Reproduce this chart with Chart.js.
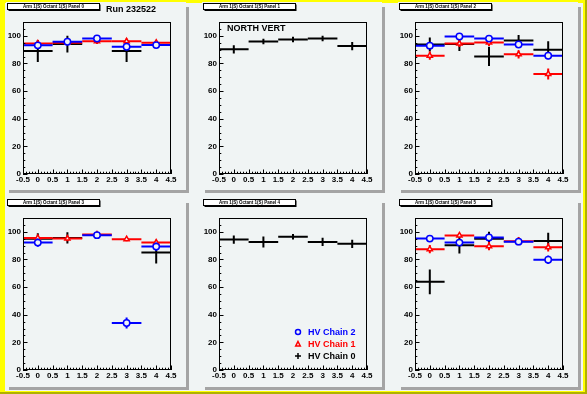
<!DOCTYPE html>
<html><head><meta charset="utf-8">
<script src="https://cdn.jsdelivr.net/npm/chart.js@4.4.0/dist/chart.umd.min.js"></script>
<style>
html,body{margin:0;padding:0;background:#fff;}
#root{position:absolute;left:0;top:0;width:587px;height:394px;background:#b0b000;overflow:hidden}
.abs{position:absolute}
canvas{position:absolute;background:#f0f4f4}
</style></head><body>
<div id="root">
 <div class="abs" style="left:0;top:0;width:585px;height:392px;background:#ffff00"></div>
 <div class="abs" style="left:5px;top:3px;width:578px;height:388px;background:#f0f4f4"></div>
</div>
<script>
// ---------- data ----------
const bins = [0, 1, 2, 3, 4];
const binHalfWidth = 0.5;
const xTickValues = [-0.5, 0, 0.5, 1, 1.5, 2, 2.5, 3, 3.5, 4, 4.5];
const yTickValues = [0, 20, 40, 60, 80, 100];
const seriesNames = ['HV Chain 2', 'HV Chain 1', 'HV Chain 0'];
const panelTitles = [
  'Arm 1(S) Octant 1(S) Panel 0', 'Arm 1(S) Octant 1(S) Panel 1', 'Arm 1(S) Octant 1(S) Panel 2',
  'Arm 1(S) Octant 1(S) Panel 3', 'Arm 1(S) Octant 1(S) Panel 4', 'Arm 1(S) Octant 1(S) Panel 5'
];
const runLabel = 'Run 232522';
const sideLabel = 'NORTH VERT';

// panel 0
const p0_chain2 = [93.1, 95.7, 98.1, 92.1, 93.3];
const p0_chain2_err = [2, 2, 1.5, 2, 1.5];
const p0_chain1 = [94.5, 95, 96, 96, 95];
const p0_chain1_err = [2, 1.5, 2, 2, 1.5];
const p0_chain0 = [89, 94, null, 89, null];
const p0_chain0_err = [8, 6, null, 8, null];
// panel 1
const p1_chain2 = [null, null, null, null, null];
const p1_chain2_err = [null, null, null, null, null];
const p1_chain1 = [null, null, null, null, null];
const p1_chain1_err = [null, null, null, null, null];
const p1_chain0 = [90.2, 95.9, 97.4, 98.1, 92.6];
const p1_chain0_err = [3, 2, 2, 2, 3];
// panel 2
const p2_chain2 = [92.9, 99.5, 98, 93.7, 85.6];
const p2_chain2_err = [2, 1.5, 1.5, 2, 2.5];
const p2_chain1 = [85.6, 94.4, 95.1, 86.6, 72.4];
const p2_chain1_err = [3, 2.5, 2.5, 3, 4];
const p2_chain0 = [93.7, 94, 85.1, 96.6, 90];
const p2_chain0_err = [5, 5, 7, 4, 6];
// panel 3
const p3_chain2 = [92.2, null, 97.6, 34, 89.3];
const p3_chain2_err = [3, null, 1.5, 4, 3];
const p3_chain1 = [95.6, 95.1, 98, 94.7, 92.2];
const p3_chain1_err = [2, 2, 1.5, 1.5, 2];
const p3_chain0 = [95, 95.6, null, null, 85];
const p3_chain0_err = [4, 4, null, null, 8];
// panel 4
const p4_chain2 = [null, null, null, null, null];
const p4_chain2_err = [null, null, null, null, null];
const p4_chain1 = [null, null, null, null, null];
const p4_chain1_err = [null, null, null, null, null];
const p4_chain0 = [94.4, 92.7, 96.4, 92.7, 91.3];
const p4_chain0_err = [3, 4, 2, 3, 3];
// panel 5
const p5_chain2 = [95.1, 92.2, 95.9, 92.9, 79.8];
const p5_chain2_err = [1.5, 2, 2, 2, 3];
const p5_chain1 = [87.4, 97.4, 89.6, 93.2, 88.8];
const p5_chain1_err = [3, 1.5, 3, 3, 3];
const p5_chain0 = [63.8, 90.3, 95, null, 93.4];
const p5_chain0_err = [9, 6, 5, null, 6];

const panels = [
  [[p0_chain2, p0_chain2_err], [p0_chain1, p0_chain1_err], [p0_chain0, p0_chain0_err]],
  [[p1_chain2, p1_chain2_err], [p1_chain1, p1_chain1_err], [p1_chain0, p1_chain0_err]],
  [[p2_chain2, p2_chain2_err], [p2_chain1, p2_chain1_err], [p2_chain0, p2_chain0_err]],
  [[p3_chain2, p3_chain2_err], [p3_chain1, p3_chain1_err], [p3_chain0, p3_chain0_err]],
  [[p4_chain2, p4_chain2_err], [p4_chain1, p4_chain1_err], [p4_chain0, p4_chain0_err]],
  [[p5_chain2, p5_chain2_err], [p5_chain1, p5_chain1_err], [p5_chain0, p5_chain0_err]]
];

// ---------- styling / layout ----------
const COLORS = ['#0000ff', '#ff0000', '#000000'];
const STYLES = ['circle', 'triangle', false];
const FONT = 'Liberation Sans, Arial, Helvetica, sans-serif';
const colX = [6, 202, 398];
const rowY = [4, 200];
const PAD_W = 180, PAD_H = [186, 187];
const EXTRA_TOP = 2;
const FR = { left: 17, right: 15, top: 18, bottom: [16, 17] };
const BG = '#f0f4f4';

const root = document.getElementById('root');

const rootPlugin = {
  id: 'rootStyle',
  beforeDatasetDraw(chart, args) {
    const ds = chart.data.datasets[args.index];
    const { ctx, chartArea: a, scales: { x, y } } = chart;
    ctx.save();
    ctx.beginPath(); ctx.rect(a.left, a.top, a.right - a.left, a.bottom - a.top); ctx.clip();
    ctx.strokeStyle = ds.borderColor; ctx.lineWidth = 2; ctx.lineCap = 'butt';
    ds.data.forEach(p => {
      const px = x.getPixelForValue(p.x), py = y.getPixelForValue(p.y);
      ctx.beginPath();
      ctx.moveTo(x.getPixelForValue(p.x - binHalfWidth), py);
      ctx.lineTo(x.getPixelForValue(p.x + binHalfWidth), py);
      ctx.moveTo(px, y.getPixelForValue(p.y - p.e));
      ctx.lineTo(px, y.getPixelForValue(p.y + p.e));
      ctx.stroke();
    });
    ctx.restore();
  },
  afterDraw(chart) {
    const { ctx, chartArea: a, scales: { x, y } } = chart;
    const o = chart.options.plugins.rootStyle;
    ctx.save();
    ctx.strokeStyle = '#000'; ctx.lineWidth = 1;
    ctx.strokeRect(Math.round(a.left) + 0.5, Math.round(a.top) + 0.5, Math.round(a.right - a.left) - 1, Math.round(a.bottom - a.top) - 1);
    ctx.beginPath();
    for (let v = 0; v <= 110; v += 5) {
      const py = Math.round(y.getPixelForValue(v)) + 0.5;
      const len = v % 20 === 0 ? 4.5 : 2.3;
      ctx.moveTo(a.left, py); ctx.lineTo(a.left + len, py);
    }
    for (let i = -5; i <= 45; i++) {
      const px = Math.round(x.getPixelForValue(i / 10)) + 0.5;
      const len = i % 5 === 0 ? 4.5 : 2.3;
      ctx.moveTo(px, a.bottom); ctx.lineTo(px, a.bottom - len);
    }
    ctx.stroke();
    // title box
    const bx = 1.5, by = 1.5, bw = 92, bh = 6;
    ctx.fillStyle = '#000';
    ctx.fillRect(bx + 1, by + 1, bw, bh + 0.5);
    ctx.fillStyle = '#ffffff';
    ctx.fillRect(bx, by, bw, bh);
    ctx.strokeStyle = '#000'; ctx.lineWidth = 1;
    ctx.strokeRect(bx, by, bw, bh);
    ctx.fillStyle = '#000';
    ctx.font = 'bold 4.5px ' + FONT;
    ctx.textAlign = 'center'; ctx.textBaseline = 'middle';
    ctx.fillText(o.title, bx + bw / 2, by + bh / 2 + 0.3);
    if (o.run) {
      ctx.font = 'bold 9px ' + FONT; ctx.textAlign = 'left'; ctx.textBaseline = 'middle';
      ctx.fillText(o.run, 100, 7.5);
    }
    if (o.side) {
      ctx.font = 'bold 9px ' + FONT; ctx.textAlign = 'left'; ctx.textBaseline = 'middle';
      ctx.fillText(o.side, a.left + 8, a.top + 6.5);
    }
    if (o.legend) {
      const lx = a.left + 79, tx = a.left + 89;
      const ys = [a.bottom - 38, a.bottom - 26, a.bottom - 14];
      seriesNames.forEach((n, i) => {
        ctx.fillStyle = COLORS[i]; ctx.strokeStyle = COLORS[i]; ctx.lineWidth = 1.5;
        if (STYLES[i] === 'circle') {
          ctx.beginPath(); ctx.arc(lx, ys[i], 2.5, 0, Math.PI * 2); ctx.stroke();
        } else if (STYLES[i] === 'triangle') {
          ctx.beginPath(); ctx.moveTo(lx, ys[i] - 2.5); ctx.lineTo(lx + 2.3, ys[i] + 2); ctx.lineTo(lx - 2.3, ys[i] + 2); ctx.closePath(); ctx.stroke();
        } else {
          ctx.beginPath(); ctx.moveTo(lx - 3, ys[i]); ctx.lineTo(lx + 3, ys[i]); ctx.moveTo(lx, ys[i] - 3); ctx.lineTo(lx, ys[i] + 3); ctx.stroke();
        }
        ctx.fillStyle = COLORS[i];
        ctx.font = 'bold 9px ' + FONT; ctx.textAlign = 'left'; ctx.textBaseline = 'middle';
        ctx.fillText(n, tx, ys[i] + 0.5);
      });
    }
    ctx.restore();
  }
};

panels.forEach((panel, pi) => {
  const col = pi % 3, row = Math.floor(pi / 3);
  const x0 = colX[col], y0 = rowY[row], h = PAD_H[row];
  const sh = document.createElement('div');
  sh.className = 'abs';
  sh.style.cssText = `left:${x0 + 3}px;top:${y0 + 3}px;width:${PAD_W}px;height:${h}px;background:#a4a4a4`;
  root.appendChild(sh);
  const cv = document.createElement('canvas');
  cv.width = PAD_W; cv.height = h + EXTRA_TOP;
  cv.style.left = x0 + 'px'; cv.style.top = (y0 - EXTRA_TOP) + 'px';
  cv.style.width = PAD_W + 'px'; cv.style.height = (h + EXTRA_TOP) + 'px';
  root.appendChild(cv);

  const datasets = panel.map(([vals, errs], si) => ({
    label: seriesNames[si],
    data: bins.map((b, i) => vals[i] == null ? null : { x: b, y: vals[i], e: errs[i] }).filter(p => p),
    borderColor: COLORS[si],
    backgroundColor: BG,
    pointBackgroundColor: BG,
    pointBorderColor: COLORS[si],
    pointStyle: STYLES[si] || 'circle',
    pointRadius: STYLES[si] ? (si === 0 ? 3.2 : 3) : 0,
    pointBorderWidth: 1.5,
    pointHoverRadius: 0
  }));

  new Chart(cv, {
    type: 'scatter',
    data: { datasets },
    plugins: [rootPlugin],
    options: {
      responsive: false, animation: false, devicePixelRatio: 1, events: [],
      layout: { padding: { top: FR.top + EXTRA_TOP, right: FR.right, left: 0, bottom: 0 } },
      plugins: {
        legend: { display: false }, tooltip: { enabled: false }, title: { display: false },
        rootStyle: {
          title: panelTitles[pi],
          run: pi === 0 ? runLabel : null,
          side: pi === 1 ? sideLabel : null,
          legend: pi === 4
        }
      },
      scales: {
        x: {
          type: 'linear', min: -0.5, max: 4.5,
          grid: { display: false, drawTicks: false }, border: { display: false },
          afterBuildTicks: s => { s.ticks = xTickValues.map(v => ({ value: v })); },
          ticks: { color: '#000', font: { family: FONT, size: 8, weight: 'bold' }, padding: 1, maxRotation: 0, autoSkip: false,
            callback: v => String(v) },
          afterFit: s => { s.height = FR.bottom[row]; }
        },
        y: {
          type: 'linear', min: 0, max: 110,
          grid: { display: false, drawTicks: false }, border: { display: false },
          afterBuildTicks: s => { s.ticks = yTickValues.map(v => ({ value: v })); },
          ticks: { color: '#000', font: { family: FONT, size: 8, weight: 'bold' }, padding: 2,
            callback: v => String(v) },
          afterFit: s => { s.width = FR.left; }
        }
      }
    }
  });
});
</script>
</body></html>
